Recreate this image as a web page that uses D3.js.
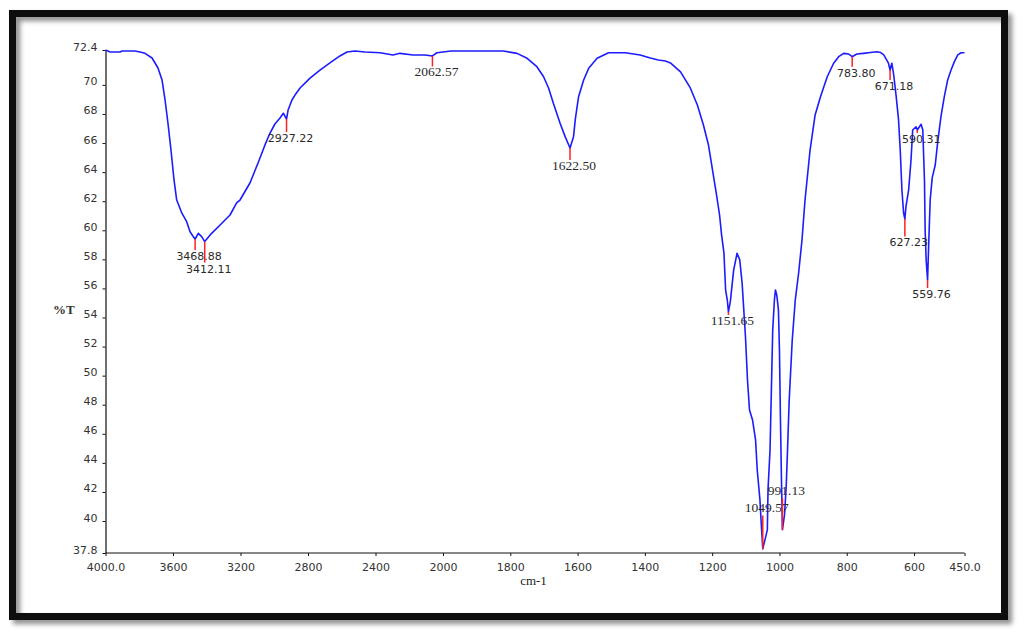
<!DOCTYPE html>
<html>
<head>
<meta charset="utf-8">
<script src="https://cdn.jsdelivr.net/npm/d3@7"></script>
<style>
  html, body { margin: 0; padding: 0; background: #fff; }
  svg { display: block; }
</style>
</head>
<body>
<svg id="chart" width="1028" height="639"></svg>
<script>
// ---------- DATA ----------
const wavenumbers = [
  4000, 3973, 3914, 3902, 3825, 3796, 3766, 3724, 3689, 3665, 3647, 3630, 3612, 3594, 3578, 3548, 3519, 3499, 3480, 3468.88,
  3450, 3430, 3412.11, 3371, 3321, 3262, 3223, 3203, 3144, 3096, 3055, 3025, 2996, 2966, 2946, 2927.22, 2918, 2895, 2877, 2847,
  2788, 2729, 2670, 2611, 2569, 2522, 2462, 2373, 2296, 2255, 2178, 2107, 2062.57, 2036, 1976, 1821, 1780, 1750, 1721, 1701,
  1686, 1672, 1652, 1637, 1622.5, 1612, 1607, 1597, 1582, 1567, 1542, 1508, 1458, 1414, 1384, 1360, 1339, 1324, 1294, 1265,
  1244, 1226, 1211, 1199, 1187, 1178, 1172, 1165, 1160, 1155, 1151.65, 1146, 1136, 1126, 1118, 1111, 1101, 1095, 1089, 1080,
  1071, 1066, 1058, 1053, 1049.57, 1036, 1034, 1028, 1024, 1020, 1015, 1012, 1008, 1003, 1000, 997, 994, 991.13, 985, 980,
  976, 971, 962, 953, 943, 933, 924, 909, 894, 878, 858, 839, 824, 809, 794, 783.8, 770, 750, 730, 710,
  700, 690, 676, 671.18, 666, 661, 653, 646, 641, 636, 631, 627.23, 624, 616, 609, 604, 594, 590.31, 579, 574,
  569, 567, 564, 559.76, 555, 552, 546, 537, 530, 520, 510, 500, 490, 480, 470, 460, 450
];
const transmittance = [
  72.40, 72.26, 72.26, 72.33, 72.33, 72.26, 72.17, 71.85, 71.16, 70.34, 68.96, 67.38, 65.52, 63.46, 62.08, 61.19, 60.59, 59.90, 59.56, 59.40,
  59.79, 59.56, 59.22, 59.79, 60.36, 61.05, 61.88, 62.08, 63.25, 64.63, 65.87, 66.69, 67.31, 67.72, 68.05, 67.65, 68.27, 68.96, 69.30, 69.79,
  70.47, 71.02, 71.51, 71.99, 72.26, 72.33, 72.26, 72.21, 72.06, 72.17, 72.06, 72.06, 71.99, 72.21, 72.33, 72.33, 72.17, 71.83, 71.25, 70.56,
  69.77, 68.73, 67.36, 66.44, 65.66, 66.44, 67.59, 69.19, 70.34, 71.14, 71.83, 72.21, 72.21, 72.06, 71.85, 71.71, 71.64, 71.51, 70.89, 69.79,
  68.62, 67.24, 65.87, 64.15, 62.43, 61.05, 59.68, 58.44, 55.89, 55.20, 54.38, 55.09, 57.27, 58.42, 57.96, 56.37, 52.68, 49.70, 47.64, 46.95,
  45.58, 43.51, 41.45, 39.39, 38.08, 39.39, 42.14, 44.89, 49.02, 53.14, 55.20, 55.89, 55.55, 54.52, 51.77, 46.95, 42.82, 39.40, 40.42, 42.34,
  44.89, 48.33, 52.45, 55.20, 57.06, 59.33, 62.08, 65.52, 67.93, 69.19, 70.56, 71.49, 71.94, 72.17, 72.12, 71.94, 72.12, 72.17, 72.23, 72.28,
  72.23, 72.06, 71.49, 71.02, 71.49, 70.80, 69.19, 67.59, 65.52, 62.77, 61.19, 60.78, 61.62, 62.77, 64.83, 66.90, 67.12, 66.90, 67.29, 66.90,
  63.46, 60.02, 57.96, 56.58, 60.02, 62.08, 63.60, 64.49, 66.00, 67.81, 69.19, 70.34, 71.02, 71.60, 72.06, 72.21, 72.21
];

const peakWavenumbers   = [3468.88, 3412.11, 2927.22, 2062.57, 1622.50, 1151.65, 1049.57, 991.13, 783.80, 671.18, 627.23, 590.31, 559.76];
const peakTransmittance = [59.40, 59.22, 67.65, 71.99, 65.66, 54.38, 38.08, 39.40, 71.94, 71.02, 60.78, 66.90, 56.58];
const peakLabels        = ["3468.88", "3412.11", "2927.22", "2062.57", "1622.50", "1151.65", "1049.57", "991.13", "783.80", "671.18", "627.23", "590.31", "559.76"];

const xTickValues = [4000, 3600, 3200, 2800, 2400, 2000, 1800, 1600, 1400, 1200, 1000, 800, 600, 450];
const xTickLabels = ["4000.0", "3600", "3200", "2800", "2400", "2000", "1800", "1600", "1400", "1200", "1000", "800", "600", "450.0"];
const yTickValues = [37.8, 40, 42, 44, 46, 48, 50, 52, 54, 56, 58, 60, 62, 64, 66, 68, 70, 72.4];
const yTickLabels = ["37.8", "40", "42", "44", "46", "48", "50", "52", "54", "56", "58", "60", "62", "64", "66", "68", "70", "72.4"];

const xTitle = "cm-1";
const yTitle = "%T";

// ---------- LAYOUT ----------
(function () {
const svg = d3.select("#chart");
const plotLeft = 105.5, plotRight = 964.5, plotTop = 50, plotBottom = 553;

// FTIR style axis: scale changes at 2000 cm-1
const x = d3.scaleLinear().domain([4000, 2000, 450]).range([plotLeft, 443, plotRight]);
const y = d3.scaleLinear().domain([37.8, 72.4]).range([plotBottom, plotTop]);

// frame with shadow
const defs = svg.append("defs");
const f = defs.append("filter").attr("id", "shadow").attr("x", "-5%").attr("y", "-5%").attr("width", "110%").attr("height", "110%");
f.append("feDropShadow").attr("dx", 4).attr("dy", 4).attr("stdDeviation", 2.5).attr("flood-color", "#000").attr("flood-opacity", 0.45);

svg.append("rect").attr("x", 0).attr("y", 0).attr("width", 1028).attr("height", 639).attr("fill", "#fff");
svg.append("rect")
  .attr("x", 12.5).attr("y", 13.5).attr("width", 992).attr("height", 603)
  .attr("fill", "none").attr("stroke", "#0a0a0a").attr("stroke-width", 7)
  .attr("filter", "url(#shadow)");

// axes
const xAxis = d3.axisBottom(x).tickValues(xTickValues)
  .tickFormat((d, i) => xTickLabels[i]).tickSize(3).tickSizeOuter(0).tickPadding(7);
const gx = svg.append("g").attr("transform", `translate(0,${plotBottom})`).call(xAxis);

const yAxis = d3.axisLeft(y).tickValues(yTickValues)
  .tickFormat((d, i) => yTickLabels[i]).tickSize(3).tickSizeOuter(0).tickPadding(5);
const gy = svg.append("g").attr("transform", `translate(${plotLeft},0)`).call(yAxis);

[gx, gy].forEach(g => {
  g.selectAll("path.domain").attr("stroke", "#111").attr("stroke-width", 1.2);
  g.selectAll(".tick line").attr("stroke", "#111");
  g.selectAll(".tick text").attr("fill", "#333")
    .style("font-family", "'DejaVu Sans', Verdana, sans-serif").style("font-size", "11px");
});
gy.selectAll(".tick text").attr("dy", "0");
gx.select("path.domain").attr("d", `M${plotLeft},0H${plotRight}`);

// axis titles
svg.append("text").attr("x", 533.5).attr("y", 585).attr("text-anchor", "middle")
  .style("font-family", "'Liberation Serif', 'Times New Roman', serif").style("font-size", "13px")
  .attr("fill", "#222").text(xTitle);
svg.append("text").attr("x", 53).attr("y", 314)
  .style("font-family", "'Liberation Serif', 'Times New Roman', serif").style("font-size", "13px")
  .style("font-weight", "bold").attr("fill", "#333").text(yTitle);

// spectrum
const spectrum = wavenumbers.map((w, i) => [w, transmittance[i]]);
const line = d3.line().x(d => x(d[0])).y(d => y(d[1]));
svg.append("path").datum(spectrum).attr("d", line)
  .attr("fill", "none").attr("stroke", "#1c1cff").attr("stroke-width", 1.6).attr("stroke-linejoin", "round");

// peak markers and labels
const markerDrop = { "3468.88": 11, "3412.11": 21, "2927.22": 13, "2062.57": 10.5, "1622.50": 12, "1151.65": 3,
  "783.80": 10, "671.18": 10, "627.23": 17.5, "590.31": 3, "559.76": 8 };
const labelAbove = { "1049.57": 37, "991.13": 35 };
const serifLabels = new Set(["2062.57", "1622.50", "1151.65", "1049.57", "991.13"]);

const peaks = peakWavenumbers.map((w, i) => ({ w, t: peakTransmittance[i], label: peakLabels[i] }));
const pg = svg.append("g");
peaks.forEach(p => {
  const px = x(p.w), py = y(p.t);
  let y1, y2, ty;
  if (labelAbove[p.label] !== undefined) {
    ty = py - labelAbove[p.label];
    y1 = ty + 3.5; y2 = py;
  } else {
    y1 = py; y2 = py + markerDrop[p.label];
    ty = y2 + 10;
  }
  pg.append("line").attr("x1", px).attr("x2", px).attr("y1", y1).attr("y2", y2)
    .attr("stroke", "#ff2020").attr("stroke-width", 1.5);
  const serif = serifLabels.has(p.label);
  pg.append("text").attr("x", px + 4).attr("y", ty).attr("text-anchor", "middle")
    .style("font-family", serif ? "'Liberation Serif', 'Times New Roman', serif" : "'DejaVu Sans', Verdana, sans-serif")
    .style("font-size", serif ? "13.5px" : "11px")
    .attr("fill", "#2a2a2a").text(p.label);
});
})();
</script>
</body>
</html>
